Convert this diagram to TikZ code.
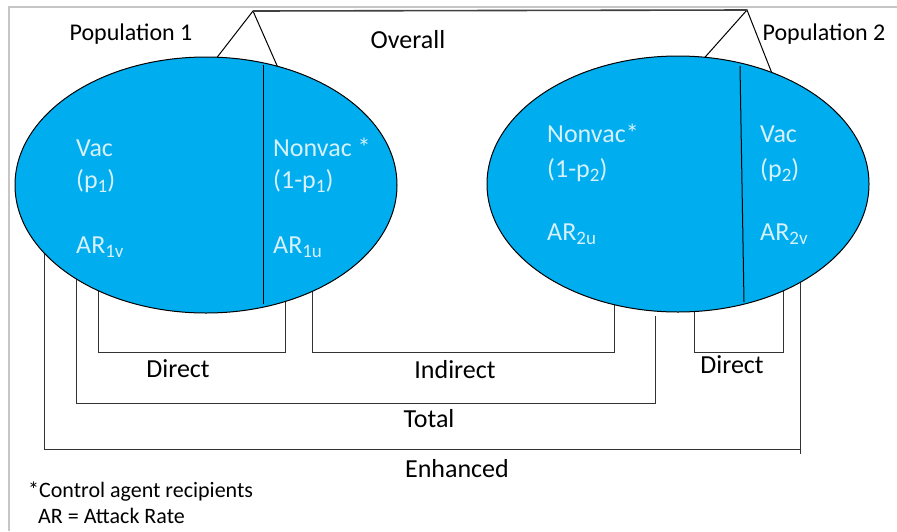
\documentclass[tikz,border=0pt]{standalone}
\usepackage{fontspec}
\setmainfont{Carlito}
\usetikzlibrary{positioning, shapes.geometric, backgrounds}
\definecolor{popblue}{RGB}{0,174,239}
\definecolor{poptext}{RGB}{214,240,252}
\newcommand{\lowsub}[1]{\raisebox{-0.35ex}{\fontsize{19}{22}\selectfont #1}}

\begin{document}
\begin{tikzpicture}[x=1pt, y=-1pt,
population/.style={ellipse, draw=black, fill=popblue, line width=1pt, minimum width=382pt, minimum height=256pt, inner sep=0pt, outer sep=0pt},
group/.style={anchor=base west, inner sep=0pt, text=poptext, font=\fontsize{26}{31}\selectfont},
effect/.style={anchor=base, inner sep=0pt, font=\fontsize{26}{31}\selectfont},
note/.style={anchor=base west, inner sep=0pt, font=\fontsize{22}{26}\selectfont},
bracket/.style={draw=black!80, line width=1pt},
]
\useasboundingbox (0,0) rectangle (897,531);

%Nodes
\node [population] (pop1) at (206,185) {};
\node [population] (pop2) at (678,184) {};

\node [group] (vac1) at (76,156) {Vac};
\node [group] (p1) at (76,188) {(p\lowsub{1})};
\node [group] (ar1v) at (76,253) {AR\lowsub{1v}};
\node [group] (nonvac1) at (273,156) {Nonvac *};
\node [group] (q1) at (273,188) {(1-p\lowsub{1})};
\node [group] (ar1u) at (273,253) {AR\lowsub{1u}};

\node [group] (nonvac2) at (547,142) {Nonvac*};
\node [group] (q2) at (547,177) {(1-p\lowsub{2})};
\node [group] (ar2u) at (547,240) {AR\lowsub{2u}};
\node [group] (vac2) at (760,142) {Vac};
\node [group] (p2) at (760,177) {(p\lowsub{2})};
\node [group] (ar2v) at (760,240) {AR\lowsub{2v}};

\node [effect, font=\fontsize{24}{29}\selectfont] (name1) at (131,40) {Population 1};
\node [effect, font=\fontsize{24}{29}\selectfont] (name2) at (824,40) {Population 2};
\node [effect] (overall) at (408,48) {Overall};

\node [effect] (direct1) at (178,377) {Direct};
\node [effect] (indirect) at (455,378) {Indirect};
\node [effect] (total) at (429,427) {Total};
\node [effect] (enhanced) at (457,477) {Enhanced};
\node [effect] (direct2) at (732,373) {Direct};

\node [note] (star) at (28,497) {*Control agent recipients};
\node [note] (attack) at (38,523) {AR = Attack Rate};

\coordinate (top1) at (253,11);
\coordinate (top2) at (747,10);

% Paths
\draw [gray!45, line width=1.5pt] (9,531) -- (9,7) -- (897,7);

\draw [line width=1pt] (263,65) -- (263,304);
\draw [line width=1pt] (740,66) -- (744,302);

\draw [line width=1pt] (pop1.85) -- (top1) -- (pop1.59);
\draw [line width=1pt] (pop2.78) -- (top2) -- (pop2.50);
\draw [black!75, line width=1.6pt] (top1) -- (top2);

\begin{scope}[on background layer]
\draw [bracket] (98,250) |- (285,352) -- (285,250);
\draw [bracket] (312,250) |- (614,352) -- (614,250);
\draw [bracket] (76,250) |- (655,403) -- (655,316);
\draw [bracket] (44,230) |- (800,449);
\draw [bracket] (800,454) -- (800,250);
\draw [bracket] (694,250) |- (783,352) -- (783,250);
\end{scope}
\end{tikzpicture}
\end{document}
